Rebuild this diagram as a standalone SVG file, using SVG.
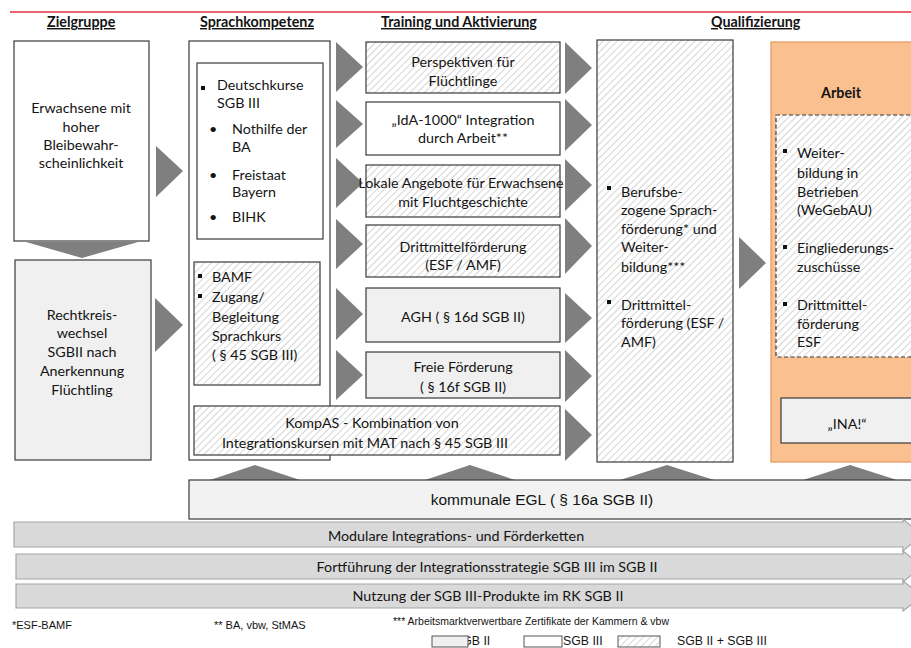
<svg xmlns="http://www.w3.org/2000/svg" width="911" height="648" viewBox="0 0 911 648">
<defs>
<pattern id="hatch" patternUnits="userSpaceOnUse" width="5" height="5" patternTransform="rotate(45)">
<rect width="5" height="5" fill="#ffffff"/>
<line x1="0" y1="0" x2="0" y2="5" stroke="#c8c8c8" stroke-width="1.5"/>
</pattern>
<style>
text{font-family:Lato,"Open Sans","Noto Sans",sans-serif;font-size:14.3px;fill:#141414}
.c{text-anchor:middle}
.h{font-weight:bold;text-decoration:underline;font-size:14.3px}
.b{font-weight:bold}
.box{stroke:#3a3a3a;stroke-width:1.2}
.w{fill:#ffffff}
.g{fill:#f0f0f0}
.x{fill:url(#hatch)}
.tri{fill:#7f7f7f}
.bar{fill:#d9d9d9;stroke:#a6a6a6;stroke-width:1.2}
.ar{font-family:"Liberation Sans",Arial,sans-serif}
.fn{font-family:"Liberation Sans",Arial,sans-serif;font-size:11px}
.lg{font-family:"Liberation Sans",Arial,sans-serif;font-size:12.3px}
.sq{fill:#111}
</style>
</defs>
<rect width="911" height="648" fill="#ffffff"/>
<line x1="10" y1="12" x2="911" y2="12" stroke="#e0303e" stroke-width="1.5"/>
<g id="headers">
<text class="h" x="47" y="27">Zielgruppe</text>
<text class="h" x="200" y="27">Sprachkompetenz</text>
<text class="h" x="381" y="27">Training und Aktivierung</text>
<text class="h" x="711" y="27">Qualifizierung</text>
</g>

<g id="connectors">
<polygon class="tri" points="26,242 138,242 82,258"/>
<polygon class="tri" points="156,146 183,171 156,197"/>
<polygon class="tri" points="155,298 183,325 155,352"/>
<polygon class="tri" points="336,42 363,67 336,92"/>
<polygon class="tri" points="336,100 363,124 336,148"/>
<polygon class="tri" points="336,158 363,183 336,208"/>
<polygon class="tri" points="336,219 363,244 336,269"/>
<polygon class="tri" points="336,288 363,314 336,340"/>
<polygon class="tri" points="336,350 363,375 336,400"/>
<polygon class="tri" points="565,42 592,68 565,94"/>
<polygon class="tri" points="565,99 592,125 565,151"/>
<polygon class="tri" points="565,159 592,185 565,211"/>
<polygon class="tri" points="565,218 592,246 565,274"/>
<polygon class="tri" points="565,293 592,318 565,343"/>
<polygon class="tri" points="565,350 592,376 565,402"/>
<polygon class="tri" points="565,409 592,435 565,461"/>
<polygon class="tri" points="739,237 766,263 739,289"/>
<polygon class="tri" points="808,390 855,375 902,390"/>
<polygon class="tri" points="210,480 255,465 300,480"/>
<polygon class="tri" points="425,480 470,465 515,480"/>
<polygon class="tri" points="620,480 667,465 714,480"/>
<polygon class="tri" points="803,480 850,465 897,480"/>
</g>

<g id="n-erwachsene">
<rect class="box w" x="14" y="41" width="135" height="200"/>
<text class="c" x="81" y="113">Erwachsene mit</text>
<text class="c" x="81" y="132">hoher</text>
<text class="c" x="81" y="150">Bleibewahr-</text>
<text class="c" x="81" y="168">scheinlichkeit</text>
</g>

<g id="n-rechtkreis">
<rect class="box g" x="15" y="260" width="136" height="200"/>
<text class="c" x="82" y="320">Rechtkreis-</text>
<text class="c" x="82" y="338">wechsel</text>
<text class="c" x="82" y="357">SGBII nach</text>
<text class="c" x="82" y="376">Anerkennung</text>
<text class="c" x="82" y="395">Flüchtling</text>
</g>

<g id="n-sprachkompetenz">
<rect class="box w" x="189" y="41" width="141" height="419"/>
</g>

<g id="n-deutschkurse">
<rect class="box w" x="197" y="63" width="126" height="176"/>
<rect class="sq" x="201" y="86" width="4" height="4"/>
<text x="217" y="90">Deutschkurse</text>
<text x="217" y="108">SGB III</text>
<text x="209" y="134">•</text>
<text x="232" y="134">Nothilfe der</text>
<text x="232" y="152">BA</text>
<text x="209" y="180">•</text>
<text x="232" y="180">Freistaat</text>
<text x="232" y="197">Bayern</text>
<text x="209" y="222">•</text>
<text x="232" y="222">BIHK</text>
</g>

<g id="n-bamf">
<rect class="box x" x="194" y="262" width="126" height="123"/>
<rect class="sq" x="198" y="274" width="4" height="4"/>
<text x="212" y="282">BAMF</text>
<rect class="sq" x="198" y="294" width="4" height="4"/>
<text x="212" y="302">Zugang/</text>
<text x="212" y="322">Begleitung</text>
<text x="212" y="341">Sprachkurs</text>
<text x="212" y="360">( § 45 SGB III)</text>
</g>

<g id="n-kompas">
<rect class="box x" x="194" y="406" width="366" height="49"/>
<text class="c" x="372" y="428">KompAS - Kombination von</text>
<text class="c" x="365" y="448">Integrationskursen mit MAT nach  § 45 SGB III</text>
</g>

<g id="n-perspektiven">
<rect class="box x" x="366" y="42" width="194" height="51"/>
<text class="c" x="463" y="67">Perspektiven für</text>
<text class="c" x="463" y="86">Flüchtlinge</text>
</g>

<g id="n-ida">
<rect class="box w" x="366" y="102" width="194" height="53"/>
<text class="c" x="463" y="125">„IdA-1000“ Integration</text>
<text class="c" x="463" y="143">durch Arbeit**</text>
</g>

<g id="n-lokale">
<rect class="box x" x="366" y="165" width="194" height="52"/>
<text class="c" x="461" y="188">Lokale Angebote für Erwachsene</text>
<text class="c" x="463" y="207">mit Fluchtgeschichte</text>
</g>

<g id="n-drittmittel">
<rect class="box x" x="366" y="225" width="194" height="52"/>
<text class="c" x="463" y="252">Drittmittelförderung</text>
<text class="c" x="463" y="270">(ESF / AMF)</text>
</g>

<g id="n-agh">
<rect class="box g" x="366" y="288" width="194" height="54"/>
<text class="c" x="463" y="322">AGH ( § 16d SGB II)</text>
</g>

<g id="n-freie">
<rect class="box g" x="366" y="352" width="194" height="46"/>
<text class="c" x="463" y="372">Freie Förderung</text>
<text class="c" x="463" y="392">( § 16f SGB II)</text>
</g>

<g id="n-qualifizierung">
<rect class="box x" x="597" y="40" width="136" height="422"/>
<rect class="sq" x="607" y="186" width="4" height="4"/>
<text x="621" y="197">Berufsbe-</text>
<text x="621" y="215">zogene Sprach-</text>
<text x="621" y="234">förderung* und</text>
<text x="621" y="252">Weiter-</text>
<text x="621" y="272">bildung***</text>
<rect class="sq" x="607" y="300" width="4" height="4"/>
<text x="621" y="310">Drittmittel-</text>
<text x="621" y="328">förderung (ESF /</text>
<text x="621" y="347">AMF)</text>
</g>

<g id="n-arbeit">
<rect x="771" y="42" width="150" height="420" fill="#fac090" stroke="#e3975e" stroke-width="1.2"/>
<text class="c b" x="841" y="98">Arbeit</text>
<rect x="776" y="115" width="145" height="242" fill="url(#hatch)" stroke="#3a3a3a" stroke-width="1.2" stroke-dasharray="4,2.5"/>
<rect class="sq" x="783" y="149" width="4" height="4"/>
<text x="797" y="158">Weiter-</text>
<text x="797" y="178">bildung in</text>
<text x="797" y="197">Betrieben</text>
<text x="797" y="215">(WeGebAU)</text>
<rect class="sq" x="783" y="245" width="4" height="4"/>
<text x="797" y="253">Eingliederungs-</text>
<text x="797" y="272">zuschüsse</text>
<rect class="sq" x="783" y="302" width="4" height="4"/>
<text x="797" y="310">Drittmittel-</text>
<text x="797" y="329">förderung</text>
<text x="797" y="347">ESF</text>
</g>

<g id="n-ina">
<rect class="box g" x="781" y="398" width="140" height="45"/>
<text class="c" x="847" y="429">„INA!“</text>
</g>

<g id="n-egl">
<rect class="box" x="189" y="480" width="730" height="39" fill="#f2f2f2"/>
<text class="c ar" x="542" y="505" style="font-size:15.5px">kommunale EGL ( § 16a SGB II)</text>
</g>

<g id="n-modulare">
<polygon class="bar" points="14,522 903,522 903,519 922,535 903,551 903,547 14,547"/>
<text class="c" x="456" y="541">Modulare Integrations- und Förderketten</text>
</g>
<g id="n-fortfuehrung">
<polygon class="bar" points="16,554 903,554 903,551 922,566 903,582 903,579 16,579"/>
<text class="c" x="487" y="572">Fortführung der Integrationsstrategie SGB III im SGB II</text>
</g>
<g id="n-nutzung">
<polygon class="bar" points="16,584 903,584 903,581 922,596 903,611 903,608 16,608"/>
<text class="c" x="488" y="601">Nutzung der SGB III-Produkte im RK SGB II</text>
</g>

<g id="footnotes">
<text class="fn" x="12" y="629">*ESF-BAMF</text>
<text class="fn" x="214" y="629">** BA, vbw, StMAS</text>
<text class="fn" x="393" y="625" style="font-size:10.5px">*** Arbeitsmarktverwertbare Zertifikate der Kammern &amp; vbw</text>
</g>

<g id="legend">
<text class="lg" x="454" y="645">SGB II</text>
<rect x="432" y="636" width="36" height="11" fill="#f0f0f0" stroke="#555" stroke-width="1"/>
<rect x="524" y="636" width="38" height="11" fill="#ffffff" stroke="#555" stroke-width="1"/>
<text class="lg" x="563" y="645">SGB III</text>
<rect x="618" y="636" width="42" height="11" fill="url(#hatch)" stroke="#555" stroke-width="1"/>
<text class="lg" x="677" y="645">SGB II + SGB III</text>
</g>
</svg>
